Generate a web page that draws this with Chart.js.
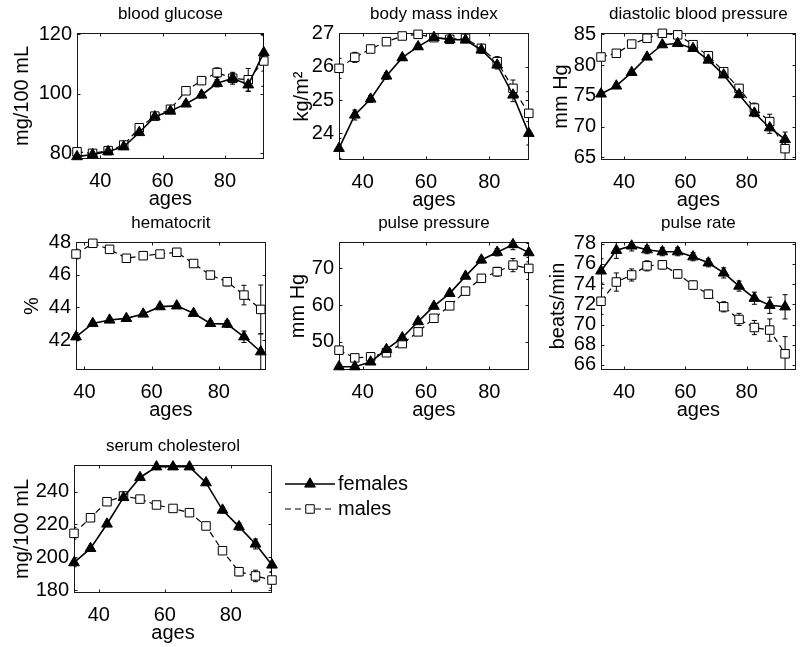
<!DOCTYPE html>
<html>
<head>
<meta charset="utf-8">
<script src="https://cdn.jsdelivr.net/npm/chart.js@4.4.1/dist/chart.umd.min.js"></script>
<style>
    html, body { margin: 0; padding: 0; background: #fff; }
    #fig { position: relative; width: 800px; height: 647px; overflow: hidden; background: #fff; }
    #fig canvas { position: absolute; }
</style>
</head>
<body>
<div id="fig"></div>
<script>
// age group midpoints (years)
const ages = [32.5, 37.5, 42.5, 47.5, 52.5, 57.5, 62.5, 67.5, 72.5, 77.5, 82.5, 87.5, 92.5];
const hctAges = [37.5, 42.5, 47.5, 52.5, 57.5, 62.5, 67.5, 72.5, 77.5, 82.5, 87.5, 92.5];
const ageTicks = [40, 60, 80];

// blood glucose, mg/100 mL
const glucoseF    = [78.9, 79.6, 80.6, 82.2, 87.0, 92.3, 94.2, 96.6, 99.6, 103.5, 105.2, 103.0, 113.8];
const glucoseFErr = [0.8, 0.5, 0.5, 0.6, 0.7, 0.7, 0.8, 0.9, 1.0, 1.2, 1.5, 2.2, 6.2];
const glucoseM    = [80.5, 80.0, 80.9, 82.8, 88.6, 92.5, 94.8, 101.0, 104.4, 107.1, 105.2, 104.7, 111.0];
const glucoseMErr = [1.0, 0.6, 0.6, 0.7, 0.8, 0.8, 0.9, 1.1, 1.3, 1.6, 2.0, 3.8, 8.5];
const glucoseTicks = [80, 100, 120];

// body mass index, kg/m2
const bmiF    = [23.55, 24.55, 25.03, 25.72, 26.27, 26.60, 26.88, 26.82, 26.80, 26.50, 26.05, 25.15, 24.00];
const bmiFErr = [0.30, 0.15, 0.10, 0.10, 0.08, 0.08, 0.08, 0.08, 0.08, 0.10, 0.12, 0.20, 0.35];
const bmiM    = [25.95, 26.28, 26.53, 26.75, 26.92, 26.97, 26.87, 26.82, 26.85, 26.55, 26.15, 25.35, 24.60];
const bmiMErr = [0.30, 0.15, 0.10, 0.08, 0.08, 0.08, 0.08, 0.08, 0.10, 0.12, 0.15, 0.25, 0.65];
const bmiTicks = [24, 25, 26, 27];

// diastolic blood pressure, mm Hg
const dbpF    = [75.3, 76.6, 78.8, 81.3, 83.3, 83.5, 82.7, 80.8, 78.4, 75.2, 72.2, 69.8, 67.9];
const dbpFErr = [0.4, 0.3, 0.3, 0.3, 0.3, 0.3, 0.3, 0.3, 0.4, 0.5, 0.6, 0.9, 1.2];
const dbpM    = [81.3, 81.9, 83.4, 84.35, 85.15, 84.9, 83.3, 81.5, 78.9, 76.2, 73.0, 70.8, 66.4];
const dbpMErr = [0.5, 0.4, 0.3, 0.3, 0.3, 0.3, 0.3, 0.4, 0.5, 0.6, 0.8, 1.2, 1.8];
const dbpTicks = [65, 70, 75, 80, 85];

// hematocrit, %
const hctF    = [42.2, 43.02, 43.23, 43.33, 43.6, 44.05, 44.1, 43.64, 43.02, 42.98, 42.2, 41.28];
const hctFErr = [0.25, 0.15, 0.12, 0.12, 0.12, 0.12, 0.12, 0.12, 0.15, 0.2, 0.35, 1.1];
const hctM    = [47.28, 47.94, 47.57, 47.02, 47.18, 47.28, 47.39, 46.7, 45.99, 45.58, 44.76, 43.88];
const hctMErr = [0.3, 0.15, 0.12, 0.12, 0.12, 0.12, 0.15, 0.15, 0.2, 0.25, 0.6, 1.5];
const hctTicks = [42, 44, 46, 48];

// pulse pressure, mm Hg
const ppF    = [43.2, 43.2, 44.5, 47.9, 51.1, 55.5, 59.7, 63.2, 67.9, 72.3, 74.4, 76.5, 74.3];
const ppFErr = [0.6, 0.4, 0.4, 0.5, 0.5, 0.5, 0.5, 0.6, 0.7, 0.8, 1.0, 1.4, 2.5];
const ppM    = [47.7, 45.6, 45.9, 47.0, 49.5, 52.7, 56.4, 59.8, 63.8, 67.3, 69.1, 70.9, 70.0];
const ppMErr = [0.7, 0.5, 0.5, 0.5, 0.5, 0.6, 0.6, 0.7, 0.8, 1.0, 1.2, 1.8, 3.0];
const ppTicks = [50, 60, 70];

// pulse rate, beats/min
const prF    = [75.3, 77.34, 77.77, 77.4, 77.2, 77.2, 76.7, 76.1, 75.1, 73.8, 72.6, 71.9, 71.75];
const prFErr = [1.2, 0.8, 0.5, 0.4, 0.4, 0.4, 0.4, 0.4, 0.5, 0.5, 0.6, 0.8, 1.2];
const prM    = [72.3, 74.2, 74.9, 75.8, 75.9, 75.0, 73.9, 73.0, 71.75, 70.5, 69.7, 69.45, 67.1];
const prMErr = [1.3, 0.9, 0.6, 0.5, 0.4, 0.4, 0.4, 0.4, 0.5, 0.6, 0.7, 1.1, 1.7];
const prTicks = [66, 68, 70, 72, 74, 76, 78];

// serum cholesterol, mg/100 mL
const cholF    = [196.7, 205.4, 220.3, 236.5, 248.7, 255.2, 255.2, 255.2, 245.5, 228.8, 218.7, 208.1, 195.3];
const cholFErr = [2.5, 1.8, 1.5, 1.3, 1.2, 1.2, 1.2, 1.3, 1.5, 1.8, 2.2, 3.0, 4.5];
const cholM    = [214.6, 224.1, 233.9, 237.4, 235.5, 231.9, 229.8, 227.2, 219.1, 204.0, 191.2, 188.6, 186.1];
const cholMErr = [3.5, 2.0, 1.5, 1.3, 1.2, 1.2, 1.3, 1.4, 1.6, 2.0, 2.5, 3.5, 5.0];
const cholTicks = [180, 200, 220, 240];

const FONT = '"Liberation Sans", Arial, Helvetica, sans-serif';

// plot box = [left, top, right, bottom] in page pixels, yDist = ylabel centre to plot left
const panels = [
    { title: 'blood glucose', yLabel: 'mg/100 mL', x: ages, f: glucoseF, fErr: glucoseFErr, m: glucoseM, mErr: glucoseMErr,
      yTicks: glucoseTicks, xMin: 32.5, xMax: 92.5, yMin: 78.1, yMax: 120.4, box: [77, 33, 265, 159], yDist: 55 },
    { title: 'body mass index', yLabel: 'kg/m²', x: ages, f: bmiF, fErr: bmiFErr, m: bmiM, mErr: bmiMErr,
      yTicks: bmiTicks, xMin: 32.5, xMax: 92.5, yMin: 23.2, yMax: 27.01, box: [339, 33, 530, 160], yDist: 37 },
    { title: 'diastolic blood pressure', yLabel: 'mm Hg', x: ages, f: dbpF, fErr: dbpFErr, m: dbpM, mErr: dbpMErr,
      yTicks: dbpTicks, xMin: 32.5, xMax: 96, yMin: 64.56, yMax: 85.2, box: [601, 33, 797, 160], yDist: 40 },
    { title: 'hematocrit', yLabel: '%', x: hctAges, f: hctF, fErr: hctFErr, m: hctM, mErr: hctMErr,
      yTicks: hctTicks, xMin: 37.5, xMax: 94, yMin: 40.16, yMax: 48.02, box: [76, 242, 267, 370], yDist: 44 },
    { title: 'pulse pressure', yLabel: 'mm Hg', x: ages, f: ppF, fErr: ppFErr, m: ppM, mErr: ppMErr,
      yTicks: ppTicks, xMin: 32.5, xMax: 92.5, yMin: 42.3, yMax: 77.2, box: [339, 242, 530, 370], yDist: 41 },
    { title: 'pulse rate', yLabel: 'beats/min', x: ages, f: prF, fErr: prFErr, m: prM, mErr: prMErr,
      yTicks: prTicks, xMin: 32.5, xMax: 96, yMin: 65.5, yMax: 78.16, box: [601, 242, 797, 370], yDist: 43 },
    { title: 'serum cholesterol', yLabel: 'mg/100 mL', x: ages, f: cholF, fErr: cholFErr, m: cholM, mErr: cholMErr,
      yTicks: cholTicks, xMin: 32.5, xMax: 92.5, yMin: 178.2, yMax: 256.3, box: [74, 465, 272, 593], yDist: 52, legend: true }
];

const PAD_L = 72, PAD_T = 33, PAD_B = 52, PAD_R = 6, LEGEND_W = 130;

// vertical error bars, drawn under the markers
const errorBars = {
    id: 'errorBars',
    beforeDatasetsDraw(chart) {
        const { ctx, chartArea: a, scales: { x, y } } = chart;
        ctx.save();
        ctx.beginPath();
        ctx.rect(a.left, a.top, a.right - a.left, a.bottom - a.top);
        ctx.clip();
        ctx.strokeStyle = '#000';
        ctx.lineWidth = 1;
        chart.data.datasets.forEach(ds => {
            ds.data.forEach((pt, i) => {
                const e = ds.errors[i];
                const px = x.getPixelForValue(pt.x);
                const top = y.getPixelForValue(pt.y + e);
                const bot = y.getPixelForValue(pt.y - e);
                ctx.beginPath();
                ctx.moveTo(px, top); ctx.lineTo(px, bot);
                ctx.moveTo(px - 2.5, top); ctx.lineTo(px + 2.5, top);
                ctx.moveTo(px - 2.5, bot); ctx.lineTo(px + 2.5, bot);
                ctx.stroke();
            });
        });
        ctx.restore();
    }
};

// matlab style box with inward ticks on all four sides
const axesBox = {
    id: 'axesBox',
    beforeDatasetsDraw(chart) {
        const { ctx, chartArea: a, scales: { x, y } } = chart;
        const L = Math.round(a.left) + 0.5, R = Math.round(a.right) - 0.5;
        const T = Math.round(a.top) + 0.5, B = Math.round(a.bottom) - 0.5;
        ctx.save();
        ctx.strokeStyle = '#1a1a1a';
        ctx.lineWidth = 1;
        ctx.strokeRect(L, T, R - L, B - T);
        ctx.beginPath();
        x.ticks.forEach(t => {
            const px = Math.round(x.getPixelForValue(t.value)) + 0.5;
            ctx.moveTo(px, B); ctx.lineTo(px, B - 3);
            ctx.moveTo(px, T); ctx.lineTo(px, T + 3);
        });
        y.ticks.forEach(t => {
            const py = Math.round(y.getPixelForValue(t.value)) + 0.5;
            ctx.moveTo(L, py); ctx.lineTo(L + 3, py);
            ctx.moveTo(R, py); ctx.lineTo(R - 3, py);
        });
        ctx.stroke();
        ctx.restore();
    }
};

// legend with line + marker samples, right of the plot
const lineLegend = {
    id: 'lineLegend',
    afterDraw(chart) {
        if (!chart.options.plugins.lineLegend.show) return;
        const { ctx, chartArea: a } = chart;
        chart.data.datasets.forEach((ds, i) => {
            const y0 = a.top + 19 + i * 25;
            const x0 = a.right + 13, x1 = a.right + 63;
            ctx.save();
            ctx.strokeStyle = '#000';
            ctx.lineWidth = ds.borderWidth;
            ctx.setLineDash(ds.borderDash || []);
            ctx.beginPath(); ctx.moveTo(x0, y0); ctx.lineTo(x1, y0); ctx.stroke();
            ctx.setLineDash([]);
            ctx.fillStyle = ds.pointBackgroundColor;
            ctx.strokeStyle = ds.pointBorderColor;
            ctx.lineWidth = 1;
            Chart.helpers.drawPoint(ctx, { pointStyle: ds.pointStyle, radius: ds.pointRadius, rotation: 0, borderWidth: 1 }, (x0 + x1) / 2, y0);
            ctx.fillStyle = '#000';
            ctx.font = `20px ${FONT}`;
            ctx.textBaseline = 'middle';
            ctx.textAlign = 'left';
            ctx.fillText(ds.label, x1 + 3, y0);
            ctx.restore();
        });
    }
};

function makePanel(p) {
    const [l, t, r, b] = p.box;
    const extra = p.legend ? LEGEND_W : 0;
    const w = (r - l) + PAD_L + PAD_R + extra;
    const h = (b - t) + PAD_T + PAD_B;
    const cv = document.createElement('canvas');
    cv.width = w; cv.height = h;
    cv.style.width = w + 'px'; cv.style.height = h + 'px';
    cv.style.left = (l - PAD_L) + 'px';
    cv.style.top = (t - PAD_T) + 'px';
    document.getElementById('fig').appendChild(cv);

    const pts = vals => p.x.map((a, i) => ({ x: a, y: vals[i] }));

    new Chart(cv, {
        type: 'line',
        data: {
            datasets: [
                {
                    label: 'females', data: pts(p.f), errors: p.fErr,
                    borderColor: '#000', borderWidth: 1.6, tension: 0,
                    pointStyle: 'triangle', pointRadius: 6.2,
                    pointBackgroundColor: '#000', pointBorderColor: '#000', pointBorderWidth: 1,
                    clip: false
                },
                {
                    label: 'males', data: pts(p.m), errors: p.mErr,
                    borderColor: '#000', borderWidth: 1.2, borderDash: [6, 4], tension: 0,
                    pointStyle: 'rect', pointRadius: 6,
                    pointBackgroundColor: '#fff', pointBorderColor: '#000', pointBorderWidth: 1,
                    clip: false
                }
            ]
        },
        options: {
            responsive: false,
            animation: false,
            devicePixelRatio: 1,
            layout: { padding: { left: 0, top: 0, bottom: 0, right: PAD_R + extra } },
            plugins: {
                legend: { display: false },
                tooltip: { enabled: false },
                title: {
                    display: true, text: p.title, fullSize: false,
                    color: '#000', font: { family: FONT, size: 17, weight: 'normal' },
                    padding: { top: 4, bottom: 8.6 }
                },
                lineLegend: { show: !!p.legend }
            },
            scales: {
                x: {
                    type: 'linear', min: p.xMin, max: p.xMax,
                    grid: { display: false, drawTicks: false }, border: { display: false },
                    afterBuildTicks: s => { s.ticks = ageTicks.map(v => ({ value: v })); },
                    afterFit: s => { s.height = PAD_B; },
                    ticks: { color: '#000', font: { family: FONT, size: 20 }, padding: 10, maxRotation: 0, autoSkip: false },
                    title: { display: true, text: 'ages', color: '#000', font: { family: FONT, size: 20 }, padding: { top: 0, bottom: 0 } }
                },
                y: {
                    type: 'linear', min: p.yMin, max: p.yMax,
                    grid: { display: false, drawTicks: false }, border: { display: false },
                    afterBuildTicks: s => { s.ticks = p.yTicks.map(v => ({ value: v })); },
                    afterFit: s => { s.width = PAD_L; },
                    ticks: { color: '#000', font: { family: FONT, size: 20 }, padding: 5, autoSkip: false },
                    title: { display: true, text: p.yLabel, color: '#000', font: { family: FONT, size: 20 },
                             padding: { top: PAD_L - p.yDist - 12, bottom: 0 } }
                }
            }
        },
        plugins: [axesBox, errorBars, lineLegend]
    });
}

panels.forEach(makePanel);
</script>
</body>
</html>
